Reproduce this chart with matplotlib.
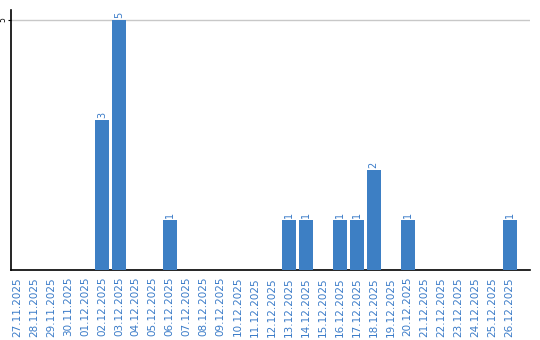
import matplotlib
matplotlib.use("Agg")
import matplotlib.pyplot as plt

dates = ["27.11.2025", "28.11.2025", "29.11.2025", "30.11.2025", "01.12.2025",
         "02.12.2025", "03.12.2025", "04.12.2025", "05.12.2025", "06.12.2025",
         "07.12.2025", "08.12.2025", "09.12.2025", "10.12.2025", "11.12.2025",
         "12.12.2025", "13.12.2025", "14.12.2025", "15.12.2025", "16.12.2025",
         "17.12.2025", "18.12.2025", "19.12.2025", "20.12.2025", "21.12.2025",
         "22.12.2025", "23.12.2025", "24.12.2025", "25.12.2025", "26.12.2025"]
counts = [0, 0, 0, 0, 0, 3, 5, 0, 0, 1, 0, 0, 0, 0, 0, 0, 1, 1, 0, 1, 1, 2, 0, 1, 0, 0, 0, 0, 0, 1]

W, H = 540, 340
fig = plt.figure(figsize=(W / 100, H / 100), dpi=100)
ax = fig.add_axes([11 / W, (H - 270) / H, (530 - 11) / W, (270 - 10) / H])

bar_color = "#3d7fc4"
text_color = "#3a7bc8"
x = list(range(len(dates)))
ax.bar(x, counts, width=0.82, color=bar_color, zorder=3)
for xi, c in zip(x, counts):
    if c > 0:
        ax.text(xi, c + 0.05, str(c), rotation=90, ha="center", va="bottom",
                color=text_color, fontsize=7)

ax.set_xlim(-0.35, 30.2)
ax.set_ylim(0, 5.2)
ax.set_yticks([5])
ax.set_yticklabels(["5"], rotation=90, va="center", fontsize=5.5)
ax.tick_params(axis="y", length=2, pad=0.5)
ax.yaxis.grid(True, color="#c8c8c8", linewidth=1, zorder=0)
ax.set_xticks(x)
ax.set_xticklabels(dates, rotation=90, fontsize=7.5, color=text_color)
ax.tick_params(axis="x", length=0, pad=5)
ax.spines["top"].set_visible(False)
ax.spines["right"].set_visible(False)
ax.spines["left"].set_linewidth(1.2)
ax.spines["bottom"].set_linewidth(1.2)

fig.savefig("out.png", dpi=100)
